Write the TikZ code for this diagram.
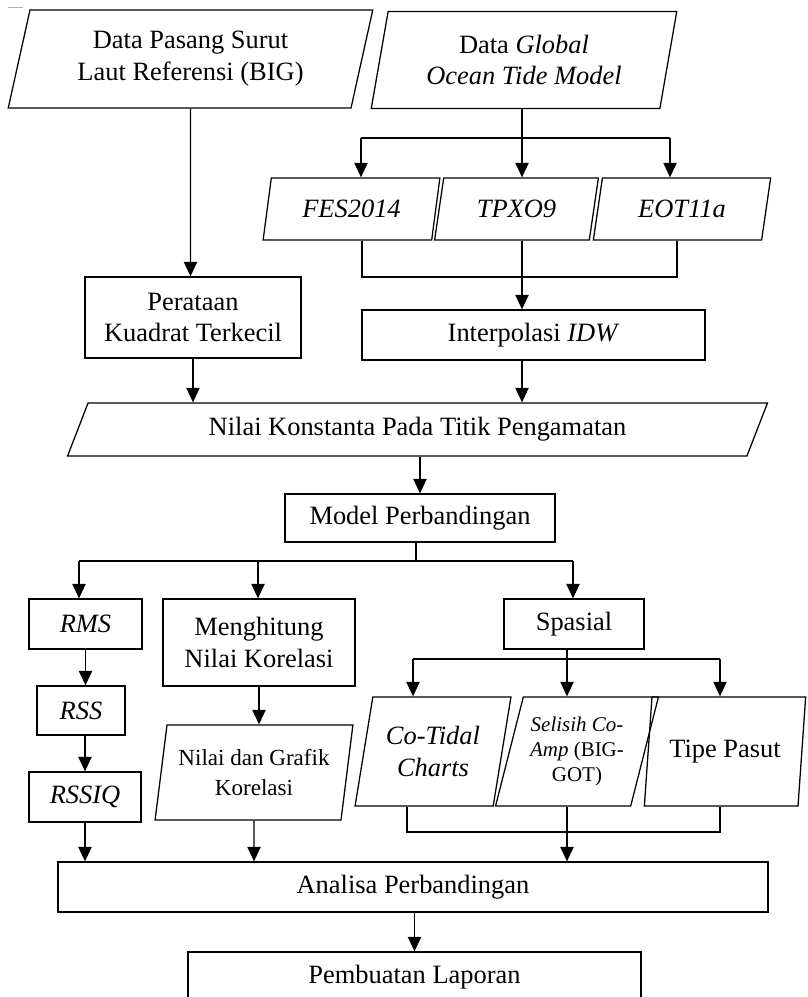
\documentclass[tikz,border=0pt]{standalone}
\usepackage{fontspec}
\setmainfont{Liberation Serif}
\usetikzlibrary{shapes.geometric,arrows.meta}

\begin{document}
\begin{tikzpicture}[x=0.025cm,y=-0.025cm,line width=0.9pt,
    arr/.style={-{Triangle[width=0.33cm,length=0.36cm]}},
    box/.style={rectangle,draw,align=center,inner sep=1pt},
    io/.style={trapezium,trapezium left angle=75,trapezium right angle=105,
      trapezium stretches=true,draw,align=center,inner sep=1pt},
    every node/.style={font=\fontsize{18.8}{22.7}\selectfont}]

      \useasboundingbox (0,0) rectangle (807,997);
      \clip (0,0) rectangle (807,997);

      \draw[gray!60,line width=0.6pt] (8,7) -- (23,7);

      \node[io,minimum width=9.125cm,minimum height=2.45cm] (pasang) at (190.5,59) {Data Pasang Surut\\Laut Referensi (BIG)};
      \node[io,trapezium left angle=77,trapezium right angle=103,minimum width=7.65cm,minimum height=2.425cm] (global) at (524,60) {Data \textit{Global}\\\textit{Ocean Tide Model}};
      \node[io,trapezium left angle=76,trapezium right angle=104,minimum width=4.425cm,minimum height=1.55cm] (fes) at (351.5,209) {\textit{FES2014}};
      \node[io,trapezium left angle=76,trapezium right angle=104,minimum width=4.1cm,minimum height=1.55cm] (tpxo) at (516.5,209) {\textit{TPXO9}};
      \node[io,trapezium left angle=76,trapezium right angle=104,minimum width=4.45cm,minimum height=1.55cm] (eot) at (682,209) {\textit{EOT11a}};
      \node[box,minimum width=5.4cm,minimum height=2.025cm] (perataan) at (193,317.5) {Perataan\\Kuadrat Terkecil};
      \node[box,minimum width=8.575cm,minimum height=1.25cm] (interp) at (533.5,335) {Interpolasi \textit{IDW}};
      \node[io,trapezium left angle=64,trapezium right angle=116,minimum width=17.525cm,minimum height=1.325cm] (nilai) at (417.5,429.5) {Nilai Konstanta Pada Titik Pengamatan};
      \node[box,minimum width=6.75cm,minimum height=1.2cm] (model) at (420,518) {Model Perbandingan};
      \node[box,minimum width=2.825cm,minimum height=1.25cm] (rms) at (85.5,624) {\textit{RMS}};
      \node[box,minimum width=2.2cm,minimum height=1.225cm] (rss) at (81,710.5) {\textit{RSS}};
      \node[box,minimum width=2.8cm,minimum height=1.25cm] (rssiq) at (85,797) {\textit{RSSIQ}};
      \node[box,minimum width=4.8cm,minimum height=2.175cm] (hitung) at (259,642.5) {Menghitung\\Nilai Korelasi};
      \node[io,trapezium left angle=78,trapezium right angle=102,minimum width=4.95cm,minimum height=2.375cm,font=\fontsize{16.4}{21.5}\selectfont] (grafik) at (254,772.5) {Nilai dan Grafik\\Korelasi};
      \node[box,minimum width=3.5cm,minimum height=1.25cm] (spasial) at (574,624) {Spasial};
      \node[io,minimum width=3.9cm,minimum height=2.725cm] (cotidal) at (433,751.5) {\textit{Co-Tidal}\\\textit{Charts}};
      \node[io,trapezium left angle=71,trapezium right angle=109,minimum width=4.075cm,minimum height=2.725cm,font=\fontsize{14.9}{18}\selectfont] (selisih) at (577,751.5) {\textit{Selisih Co-}\\\textit{Amp} (BIG-\\GOT)};
      \node[io,trapezium left angle=77,trapezium right angle=103,minimum width=4.05cm,minimum height=2.725cm] (tipe) at (725,751.5) {Tipe Pasut};
      \node[box,minimum width=17.75cm,minimum height=1.25cm] (analisa) at (413,887) {Analisa Perbandingan};
      \node[box,minimum width=11.325cm,minimum height=1.25cm] (laporan) at (414.5,977) {Pembuatan Laporan};

      \coordinate (gl) at (361,138);
      \coordinate (gm) at (522,138);
      \coordinate (gr) at (670,138);
      \coordinate (ml) at (362,277);
      \coordinate (mm) at (522,277);
      \coordinate (mr) at (677,277);
      \coordinate (sl) at (79,561);
      \coordinate (sm) at (258,561);
      \coordinate (sr) at (573,561);
      \coordinate (pl) at (413,659);
      \coordinate (pm) at (567,659);
      \coordinate (pr) at (720,659);
      \coordinate (ql) at (407,832);
      \coordinate (qm) at (567,832);
      \coordinate (qr) at (720,832);

      \draw (global.south -| gm) -- (gm);
      \draw (gl) -- (gr);
      \draw[arr] (gl) -- (fes.north -| gl);
      \draw[arr] (gm) -- (tpxo.north -| gm);
      \draw[arr] (gr) -- (eot.north -| gr);
      \draw (fes.south -| ml) -- (ml) -- (mr) -- (eot.south -| mr);
      \draw (tpxo.south -| mm) -- (mm);
      \draw[arr] (mm) -- (interp.north -| mm);
      \draw[arr] (pasang) -- (pasang |- perataan.north);
      \draw[arr] (perataan) -- (perataan |- nilai.north);
      \draw[arr] (interp.south -| mm) -- (nilai.north -| mm);
      \draw[arr] (nilai.south -| model.north) -- (model.north);

      \draw (model.south -| 416,0) -- (416,561);
      \draw (sl) -- (sr);
      \draw[arr] (sl) -- (rms.north -| sl);
      \draw[arr] (sm) -- (hitung.north -| sm);
      \draw[arr] (sr) -- (spasial.north -| sr);
      \draw[arr] (rms) -- (rms |- rss.north);
      \draw[arr] (rss.south -| rssiq) -- (rssiq);
      \draw[arr] (hitung) -- (hitung |- grafik.north);

      \draw (spasial.south -| pm) -- (pm);
      \draw (pl) -- (pr);
      \draw[arr] (pl) -- (cotidal.north -| pl);
      \draw[arr] (pm) -- (selisih.north -| pm);
      \draw[arr] (pr) -- (tipe.north -| pr);
      \draw (cotidal.south -| ql) -- (ql) -- (qr) -- (tipe.south -| qr);
      \draw (selisih.south -| qm) -- (qm);

      \draw[arr] (qm) -- (analisa.north -| qm);
      \draw[arr] (rssiq) -- (rssiq |- analisa.north);
      \draw[arr] (grafik) -- (grafik |- analisa.north);
      \draw[arr] (analisa.south -| laporan.north) -- (laporan.north);

    \end{tikzpicture}
\end{document}
